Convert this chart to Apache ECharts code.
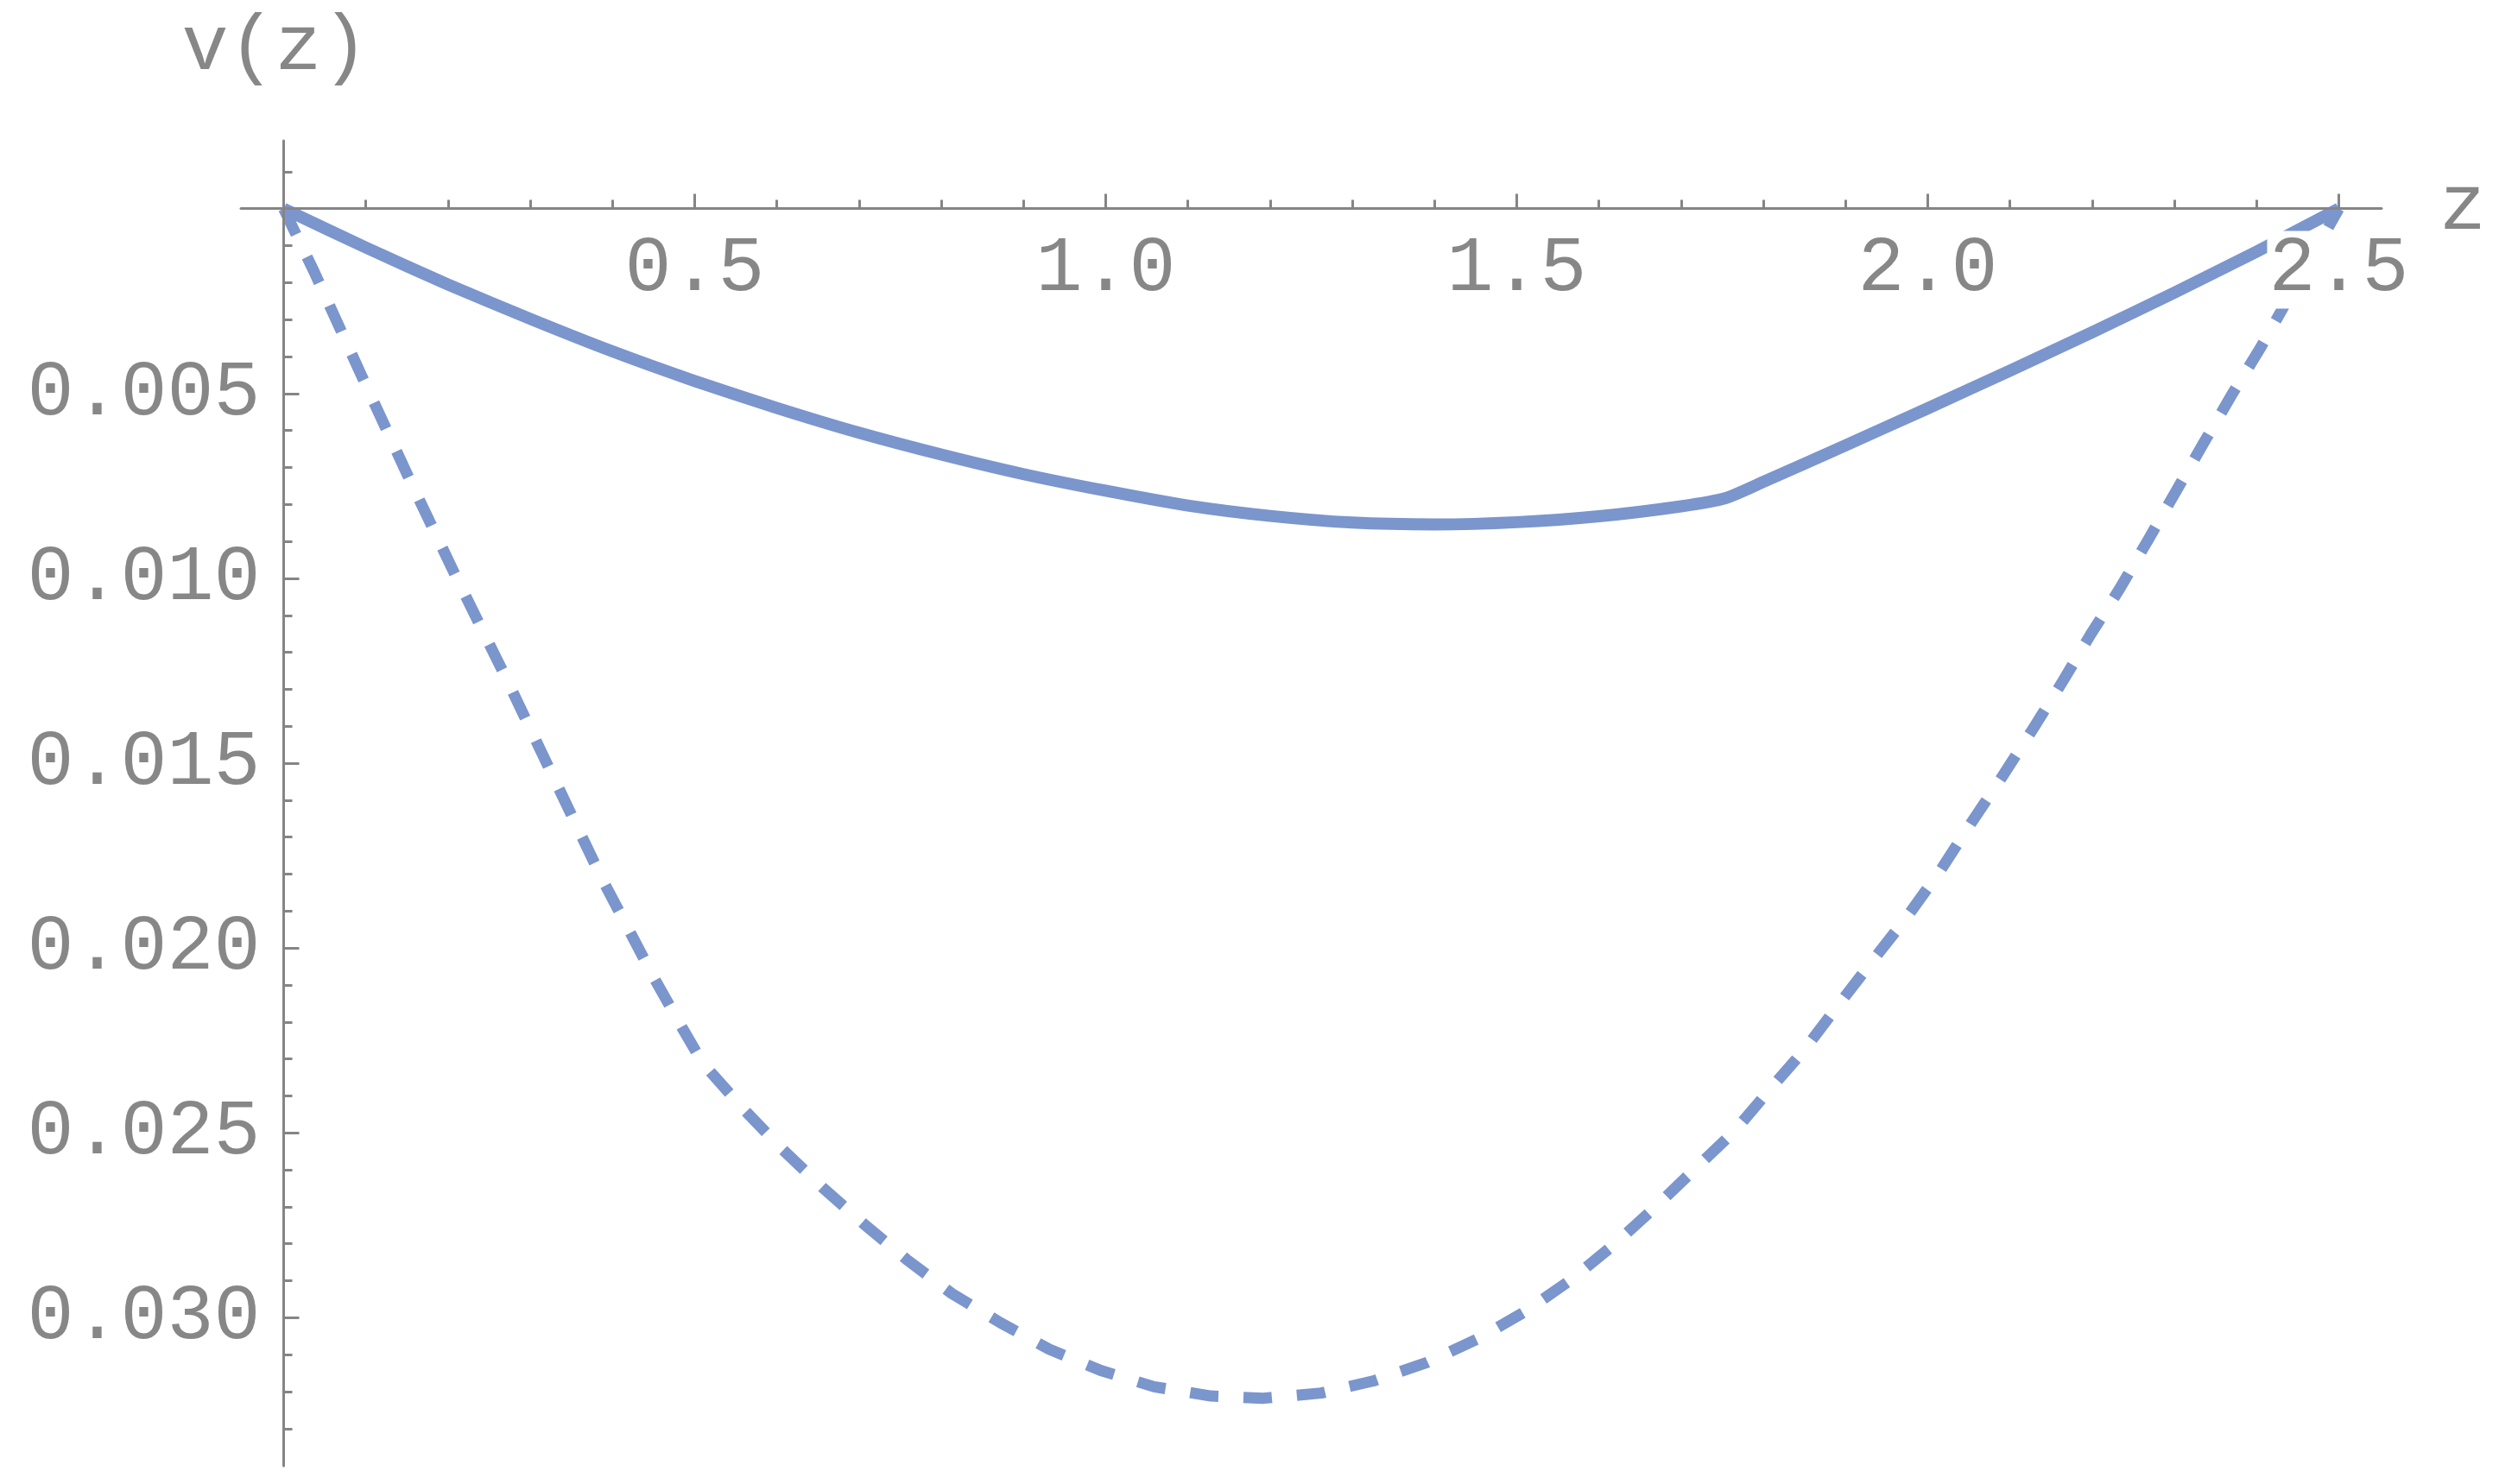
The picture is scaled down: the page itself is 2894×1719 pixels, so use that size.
<!DOCTYPE html>
<html>
<head>
<meta charset="utf-8">
<script src="https://cdn.jsdelivr.net/npm/echarts@6/dist/echarts.min.js"></script>
<style>
html,body{margin:0;padding:0;background:#fff;}
#chart{width:2894px;height:1719px;}
</style>
</head>
<body>
<div id="chart"></div>
<script>
// Solid curve: z values and v(z) values
var solidZ = [0, 0.1, 0.2, 0.3, 0.4, 0.5, 0.6, 0.7, 0.8, 0.9, 1.0, 1.1, 1.2, 1.3, 1.4, 1.5, 1.6, 1.7, 1.754, 1.8, 1.9, 2.0, 2.1, 2.2, 2.3, 2.4, 2.5];
var solidV = [0, 0.00105, 0.00205, 0.00298, 0.00386, 0.00466, 0.00539, 0.00606, 0.00665, 0.00718, 0.00763, 0.00803, 0.00831, 0.00849, 0.00854, 0.00848, 0.00832, 0.00805, 0.00783, 0.00739, 0.00640, 0.00540, 0.00438, 0.00334, 0.00227, 0.00116, 0];

// Dashed curve
var dashedZ = [0, 0.037, 0.094, 0.152, 0.21, 0.27, 0.329, 0.388, 0.451, 0.485, 0.51, 0.557, 0.604, 0.655, 0.706, 0.758, 0.813, 0.872, 0.931, 0.994, 1.059, 1.128, 1.192, 1.262, 1.326, 1.391, 1.453, 1.512, 1.567, 1.619, 1.669, 1.717, 1.765, 1.807, 1.85, 1.892, 1.933, 1.975, 2.016, 2.053, 2.09, 2.128, 2.164, 2.198, 2.234, 2.268, 2.302, 2.335, 2.369, 2.405, 2.5];
var dashedV = [0, 0.0017, 0.00448, 0.00727, 0.00997, 0.01267, 0.01542, 0.01816, 0.02083, 0.02217, 0.02312, 0.0243, 0.02539, 0.02647, 0.02747, 0.02843, 0.02935, 0.03014, 0.03085, 0.03143, 0.03187, 0.03212, 0.03218, 0.03204, 0.03171, 0.03121, 0.03057, 0.02981, 0.02896, 0.02801, 0.02700, 0.02597, 0.02495, 0.02385, 0.02275, 0.02152, 0.02034, 0.01915, 0.01788, 0.01661, 0.01538, 0.01407, 0.01279, 0.01152, 0.01026, 0.00896, 0.00764, 0.00636, 0.00506, 0.00375, 0];

// Ticks and labels
var xMajorTicks = [0.5, 1.0, 1.5, 2.0, 2.5];
var xMinorTicks = [0.1, 0.2, 0.3, 0.4, 0.6, 0.7, 0.8, 0.9, 1.1, 1.2, 1.3, 1.4, 1.6, 1.7, 1.8, 1.9, 2.1, 2.2, 2.3, 2.4];
var yMajorTicks = [0.005, 0.010, 0.015, 0.020, 0.025, 0.030];
var yMinorTicks = [-0.001, 0.001, 0.002, 0.003, 0.004, 0.006, 0.007, 0.008, 0.009, 0.011, 0.012, 0.013, 0.014, 0.016, 0.017, 0.018, 0.019, 0.021, 0.022, 0.023, 0.024, 0.026, 0.027, 0.028, 0.029, 0.031, 0.032, 0.033];

var xName = 'z';
var yName = 'v(z)';

function pairs(xs, ys) {
  var out = [];
  for (var i = 0; i < xs.length; i++) out.push([xs[i], ys[i]]);
  return out;
}

var AX = '#858585';
var TXT = '#878787';
var FONT = 'Liberation Mono';
var FS = 90;
var LINE = '#7b95cd';

var X_MIN = -0.052, X_MAX = 2.552;
var Y_MIN = -0.00184, Y_MAX = 0.03401;

// pixel layout
var W = 2894, H = 1719;
var PLOT = {left: 279, right: 136, top: 163, bottom: 21};
var ZERO_X = 328.5, ZERO_Y = 241.5;

var hiddenX = function (grid) { return {type: 'value', gridIndex: grid, min: X_MIN, max: X_MAX, show: false}; };
var hiddenY = function (grid) { return {type: 'value', gridIndex: grid, min: Y_MIN, max: Y_MAX, inverse: true, show: false}; };

var chart = echarts.init(document.getElementById('chart'), null, {renderer: 'canvas'});
chart.setOption({
  animation: false,
  backgroundColor: '#ffffff',
  grid: [
    {left: PLOT.left, right: PLOT.right, top: PLOT.top, bottom: PLOT.bottom, containLabel: false, outerBoundsMode: 'none'},
    {left: PLOT.left, right: PLOT.right, top: 0, bottom: H - ZERO_Y, containLabel: false, outerBoundsMode: 'none'},
    {left: ZERO_X, right: PLOT.right, top: PLOT.top, bottom: PLOT.bottom, containLabel: false, outerBoundsMode: 'none'}
  ],
  xAxis: [
    hiddenX(0),
    {
      type: 'value', gridIndex: 1, min: X_MIN, max: X_MAX, z: 4, position: 'bottom',
      name: xName, nameLocation: 'end', nameGap: 67,
      nameTextStyle: {fontFamily: FONT, fontSize: FS, color: TXT, lineHeight: FS},
      axisLine: {show: true, onZero: false, lineStyle: {color: AX, width: 3}},
      axisTick: {show: true, inside: true, length: 17, customValues: xMajorTicks, lineStyle: {color: AX, width: 3}},
      axisLabel: {show: true, customValues: xMajorTicks, margin: 26, fontFamily: FONT, fontSize: FS, color: TXT,
        lineHeight: FS, backgroundColor: '#ffffff', padding: [0, 2, 0, 2],
        formatter: function (v) { return v.toFixed(1); }},
      splitLine: {show: false}
    },
    {
      type: 'value', gridIndex: 1, min: X_MIN, max: X_MAX, z: 4, position: 'bottom',
      axisLine: {show: false, onZero: false},
      axisTick: {show: true, inside: true, length: 10, customValues: xMinorTicks, lineStyle: {color: AX, width: 3}},
      axisLabel: {show: false},
      splitLine: {show: false}
    },
    hiddenX(2)
  ],
  yAxis: [
    hiddenY(0),
    hiddenY(1),
    {
      type: 'value', gridIndex: 2, min: Y_MIN, max: Y_MAX, inverse: true, z: 4, position: 'left',
      name: yName, nameLocation: 'start', nameGap: 62,
      nameTextStyle: {fontFamily: FONT, fontSize: FS, color: TXT, lineHeight: FS, padding: [0, 20, 0, 0]},
      axisLine: {show: true, onZero: false, lineStyle: {color: AX, width: 3}},
      axisTick: {show: true, inside: true, length: 18, customValues: yMajorTicks, lineStyle: {color: AX, width: 3}},
      axisLabel: {show: true, customValues: yMajorTicks, margin: 27, fontFamily: FONT, fontSize: FS, color: TXT,
        lineHeight: FS, formatter: function (v) { return v.toFixed(3); }},
      splitLine: {show: false}
    },
    {
      type: 'value', gridIndex: 2, min: Y_MIN, max: Y_MAX, inverse: true, z: 4, position: 'left',
      axisLine: {show: false, onZero: false},
      axisTick: {show: true, inside: true, length: 10, customValues: yMinorTicks, lineStyle: {color: AX, width: 3}},
      axisLabel: {show: false},
      splitLine: {show: false}
    }
  ],
  series: [{
    type: 'line', xAxisIndex: 0, yAxisIndex: 0, z: 2,
    data: pairs(solidZ, solidV), showSymbol: false, symbol: 'none', smooth: 0.2,
    lineStyle: {color: LINE, width: 14, cap: 'butt', join: 'round'}
  }, {
    type: 'line', xAxisIndex: 0, yAxisIndex: 0, z: 2,
    data: pairs(dashedZ, dashedV), showSymbol: false, symbol: 'none', smooth: false,
    lineStyle: {color: LINE, width: 13, type: [33, 29], cap: 'butt', join: 'round'}
  }]
});
</script>
</body>
</html>
